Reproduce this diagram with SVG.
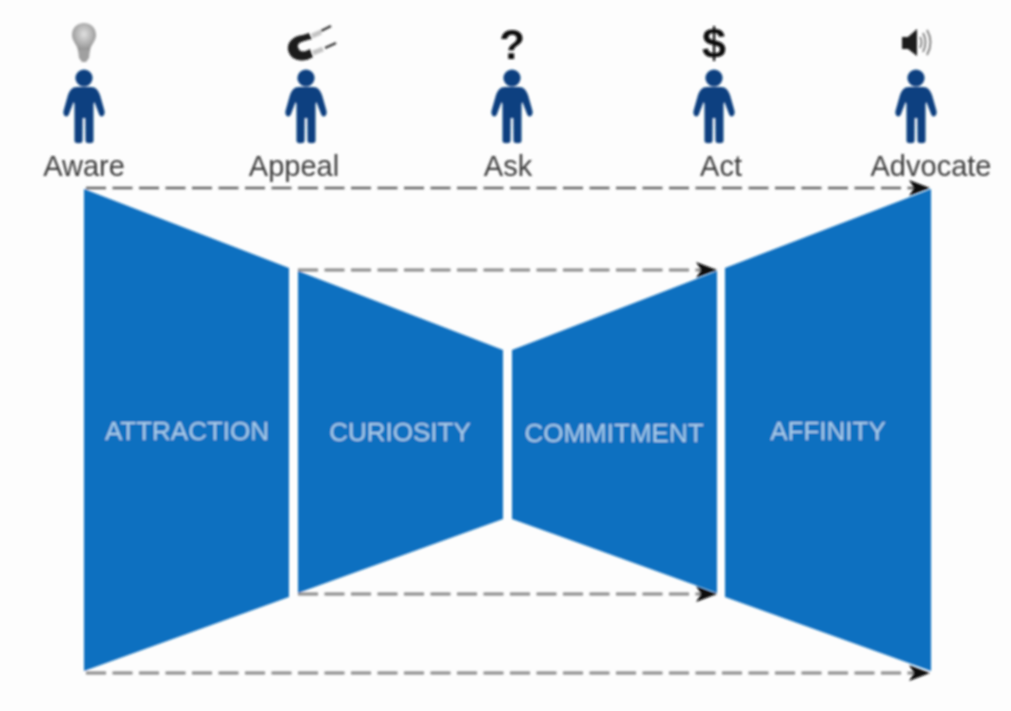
<svg xmlns="http://www.w3.org/2000/svg" width="1011" height="711" viewBox="0 0 1011 711">
<style>
.lab{font-family:"Liberation Sans",Arial,sans-serif;font-size:29px;fill:#3c3c3c;text-anchor:middle}
.stage{font-family:"Liberation Sans",Arial,sans-serif;font-size:26px;fill:#a9cdea;text-anchor:middle}
.trap{fill:#1070c0}
.dash{fill:none;stroke:#666;stroke-width:2.6;stroke-dasharray:20 6.5}
.dashk{fill:none;stroke:#8a8a8a;stroke-width:2.8;stroke-dasharray:20 6.5}
.sym{font-family:"Liberation Sans",Arial,sans-serif;font-weight:bold;fill:#111;text-anchor:middle}
</style>
<defs>
<marker id="ah" markerUnits="userSpaceOnUse" markerWidth="26" markerHeight="18" refX="23" refY="9" orient="auto">
<path d="M2 1 L23 9 L2 17 L7 9Z" fill="#0a0a0a"/>
</marker>
<radialGradient id="bulb" cx="0.5" cy="0.4" r="0.6"><stop offset="0" stop-color="#e0e0e0"/><stop offset="1" stop-color="#8f8f8f"/></radialGradient>
<g id="person">
<circle cx="0" cy="78" r="8.6" fill="#0b4080"/>
<path d="M-7 87 L7 87 C12 87 14 90 16 95 L20.500 111 C21.500 117 16 118 15 114 L10.500 102 L9.500 104 L9.500 141 C9.500 144 1.500 144 1.500 141 L1.300 118 L-1.300 118 L-1.500 141 C-1.500 144 -9.500 144 -9.500 141 L-9.500 104 L-10.500 102 L-15 114 C-16 118 -21.500 117 -20.500 111 L-16 95 C-14 90 -12 87 -7 87Z" fill="#0b4080"/>
</g>
<filter id="soft" x="-2%" y="-2%" width="104%" height="104%"><feGaussianBlur stdDeviation="0.8"/></filter>
</defs>
<rect width="1011" height="711" fill="#fdfdfd"/>
<g filter="url(#soft)">
<g id="connectors">
<path class="dash" d="M86 188 H930" marker-end="url(#ah)"/>
<path class="dashk" d="M298 270 H717" marker-end="url(#ah)"/>
<path class="dashk" d="M298 594 H717" marker-end="url(#ah)"/>
<path class="dashk" d="M86 673 H930" marker-end="url(#ah)"/>
</g>
<g id="attraction">
<polygon class="trap" points="84,189 289,268 289,597 84,671"/>
<text class="stage" x="187" y="440">ATTRACTION</text>
</g>
<g id="curiosity">
<polygon class="trap" points="298,271 503,350 503,519 298,593"/>
<text class="stage" x="400" y="441">CURIOSITY</text>
</g>
<g id="commitment">
<polygon class="trap" points="512,350 717,271 717,593 512,519"/>
<text class="stage" x="614" y="442">COMMITMENT</text>
</g>
<g id="affinity">
<polygon class="trap" points="725,268 931,189 931,671 725,597"/>
<text class="stage" x="828" y="440">AFFINITY</text>
</g>
<g id="aware">
<path d="M72 35 C72 19 96 19 96 35 C96 42 90 45 90 51 L78 51 C78 45 72 42 72 35Z" fill="url(#bulb)"/>
<path d="M78 50 H90 L89 58 L86 62 L82 62 L79 58Z" fill="#a0a0a0"/>
<use href="#person" x="84"/>
<text class="lab" x="84" y="176">Aware</text>
</g>
<g id="appeal">
<path d="M309 33 L303 35 C292 36 287 43 288 50 C290 60 302 64 313 57 L310 49 C304 53 299 52 298 47 C297 43 302 41 312 39Z" fill="#1a1a1a"/>
<path d="M312 36 L321 32 M313 53 L323 49" stroke="#c4c4c4" stroke-width="5" fill="none"/>
<path d="M321 31 L331 26 M325 48 L336 43" stroke="#333" stroke-width="2.4" fill="none"/>
<use href="#person" x="306"/>
<text class="lab" x="294" y="176">Appeal</text>
</g>
<g id="ask">
<text class="sym" x="512" y="59" font-size="42">?</text>
<use href="#person" x="512"/>
<text class="lab" x="508" y="176">Ask</text>
</g>
<g id="act">
<text class="sym" x="714" y="58" font-size="43">$</text>
<use href="#person" x="714"/>
<text class="lab" x="721" y="176">Act</text>
</g>
<g id="advocate">
<path d="M902 37 H908 L917 29 V56 L908 49 H902Z" fill="#1a1a1a"/>
<path d="M920 37 Q923 42 920 48 M923 33 Q928 42 923 52 M927 30 Q934 42 927 55" stroke="#888" stroke-width="2" fill="none"/>
<use href="#person" x="916"/>
<text class="lab" x="931" y="176">Advocate</text>
</g>
</g>
</svg>
